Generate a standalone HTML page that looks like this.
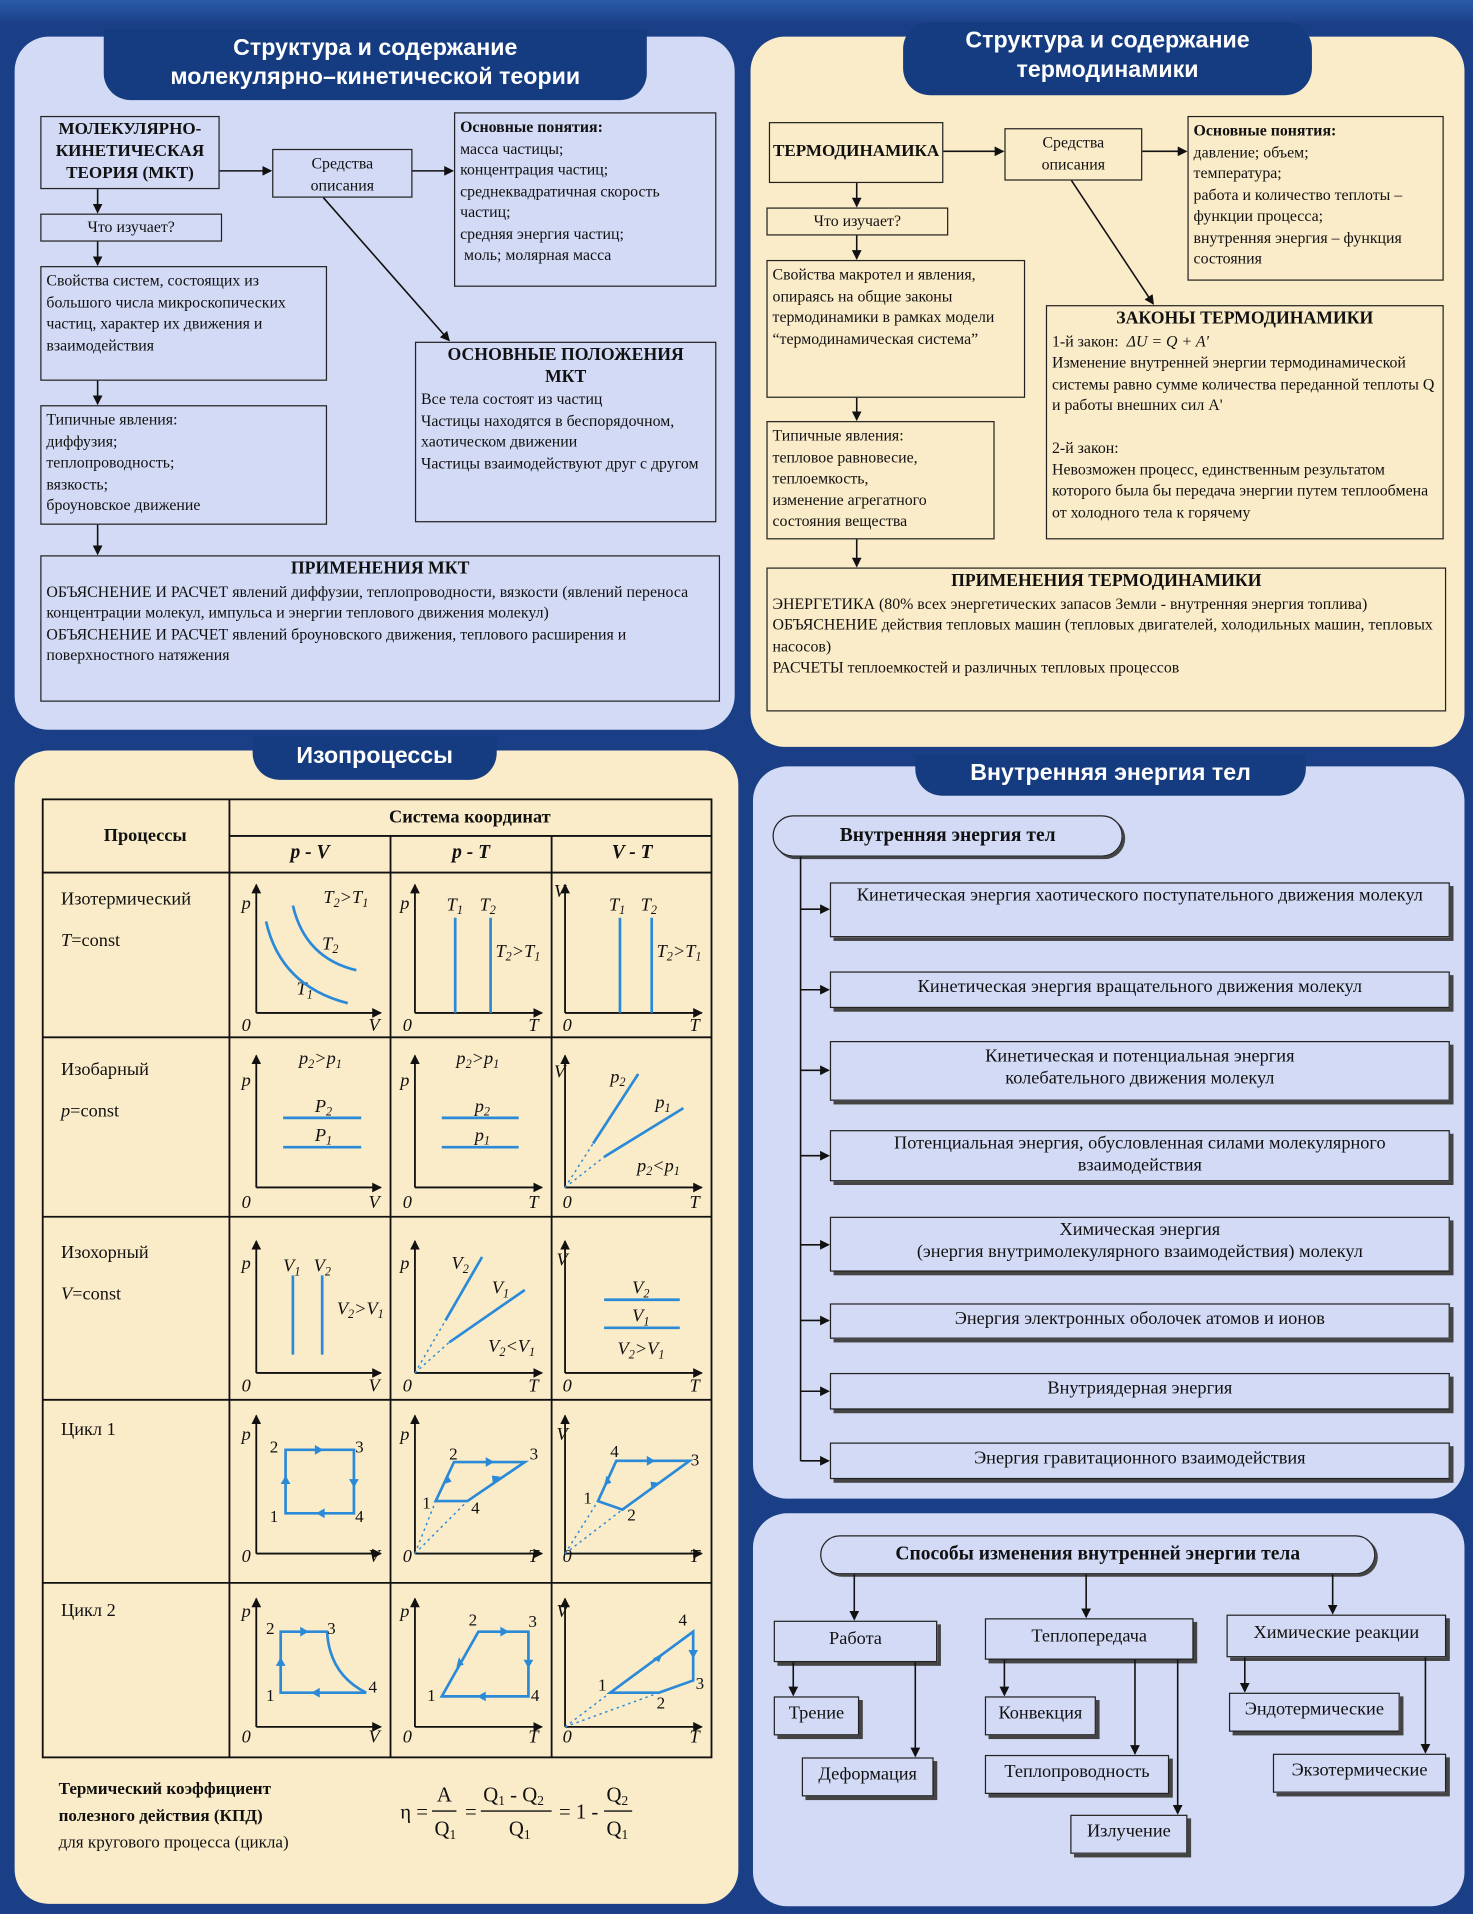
<!DOCTYPE html>
<html><head><meta charset="utf-8">
<style>
html,body{margin:0;padding:0;background:#1b3f86;}
#wrap{width:1207px;height:1568px;position:relative;transform:scale(1.2204);transform-origin:0 0;background:linear-gradient(#2a5aa8 0,#1b3f86 20px,#1b3f86 100%);overflow:hidden;font-family:"Liberation Serif","Noto Serif CJK SC",serif;color:#111;}
.p{position:absolute;border-radius:28px;}
.tab{position:absolute;background:#153c80;color:#fff;font-family:"Liberation Sans",sans-serif;font-weight:bold;text-align:center;border-radius:0 0 22px 22px;font-size:19px;line-height:24px;}
.b{position:absolute;border:1.3px solid #222;box-sizing:border-box;font-size:13px;line-height:17.5px;padding:2px 4px;}
.c{text-align:center}
.bold{font-weight:bold}
.sh{box-shadow:3px 3px 0 #444;padding:2px 10px;}
.pill{position:absolute;border:1.5px solid #222;border-radius:18px;box-sizing:border-box;font-weight:bold;font-size:16px;text-align:center;box-shadow:2px 2px 0 #444;}
svg{position:absolute;left:0;top:0}
</style></head><body><div id="wrap">
<div class="p" style="left:12px;top:30px;width:590px;height:568px;background:#d3daf5"></div>
<div class="p" style="left:615px;top:30px;width:585px;height:582px;background:#fbecc9"></div>
<div class="p" style="left:12px;top:615px;width:593px;height:945px;background:#fbecc9"></div>
<div class="p" style="left:617px;top:628px;width:583px;height:600px;background:#d3daf5"></div>
<div class="p" style="left:617px;top:1240px;width:583px;height:322px;background:#d3daf5"></div>

<div class="tab" style="left:85px;top:24px;width:445px;height:58px;padding-top:4px;box-sizing:border-box">Структура и содержание<br>молекулярно–кинетической теории</div>
<div class="tab" style="left:740px;top:18px;width:335px;height:60px;padding-top:4px;box-sizing:border-box;border-radius:22px">Структура и содержание<br>термодинамики</div>
<div class="tab" style="left:207px;top:603px;width:200px;height:36px;padding-top:5px;box-sizing:border-box">Изопроцессы</div>
<div class="tab" style="left:750px;top:618px;width:320px;height:34px;padding-top:4px;box-sizing:border-box">Внутренняя энергия тел</div>

<!-- TL -->
<div class="b c bold" style="left:33px;top:95px;width:147px;height:60px;font-size:14px;line-height:18px">МОЛЕКУЛЯРНО-<br>КИНЕТИЧЕСКАЯ<br>ТЕОРИЯ (МКТ)</div>
<div class="b c" style="left:223px;top:122px;width:115px;height:40px">Средства<br>описания</div>
<div class="b" style="left:372px;top:92px;width:215px;height:143px"><b>Основные понятия:</b><br>масса частицы;<br>концентрация частиц;<br>среднеквадратичная скорость частиц;<br>средняя энергия частиц;<br>&nbsp;моль; молярная масса</div>
<div class="b c" style="left:33px;top:175px;width:149px;height:23px;line-height:16px">Что изучает?</div>
<div class="b" style="left:33px;top:218px;width:235px;height:94px">Свойства систем, состоящих из большого числа микроскопических частиц, характер их движения и взаимодействия</div>
<div class="b" style="left:340px;top:280px;width:247px;height:148px"><div class="c bold" style="font-size:14.5px">ОСНОВНЫЕ ПОЛОЖЕНИЯ<br>МКТ</div>Все тела состоят из частиц<br>Частицы находятся в беспорядочном, хаотическом движении<br>Частицы взаимодействуют друг с другом</div>
<div class="b" style="left:33px;top:332px;width:235px;height:98px">Типичные явления:<br>диффузия;<br>теплопроводность;<br>вязкость;<br>броуновское движение</div>
<div class="b" style="left:33px;top:455px;width:557px;height:120px"><div class="c bold" style="font-size:14.5px">ПРИМЕНЕНИЯ МКТ</div>ОБЪЯСНЕНИЕ И РАСЧЕТ явлений диффузии, теплопроводности, вязкости (явлений переноса концентрации молекул, импульса и энергии теплового движения молекул)<br>ОБЪЯСНЕНИЕ И РАСЧЕТ явлений броуновского движения, теплового расширения и поверхностного натяжения</div>

<!-- TR -->
<div class="b c bold" style="left:630px;top:100px;width:143px;height:50px;padding:15px 1px 0;font-size:14px">ТЕРМОДИНАМИКА</div>
<div class="b c" style="left:823px;top:105px;width:113px;height:43px">Средства<br>описания</div>
<div class="b" style="left:973px;top:95px;width:210px;height:135px"><b>Основные понятия:</b><br>давление; объем;<br>температура;<br>работа и количество теплоты – функции процесса;<br>внутренняя энергия – функция состояния</div>
<div class="b c" style="left:628px;top:170px;width:149px;height:23px;line-height:16px">Что изучает?</div>
<div class="b" style="left:628px;top:213px;width:212px;height:113px">Свойства макротел и явления, опираясь на общие законы термодинамики в рамках модели “термодинамическая система”</div>
<div class="b" style="left:857px;top:250px;width:326px;height:192px"><div class="c bold" style="font-size:14.5px">ЗАКОНЫ ТЕРМОДИНАМИКИ</div>1-й закон: &nbsp;<i>ΔU = Q + A'</i><br>Изменение внутренней энергии термодинамической системы равно сумме количества переданной теплоты Q и работы внешних сил A'<br><br>2-й закон:<br>Невозможен процесс, единственным результатом которого была бы передача энергии путем теплообмена от холодного тела к горячему</div>
<div class="b" style="left:628px;top:345px;width:187px;height:97px">Типичные явления:<br>тепловое равновесие,<br>теплоемкость,<br>изменение агрегатного состояния вещества</div>
<div class="b" style="left:628px;top:465px;width:557px;height:118px"><div class="c bold" style="font-size:14.5px">ПРИМЕНЕНИЯ ТЕРМОДИНАМИКИ</div>ЭНЕРГЕТИКА (80% всех энергетических запасов Земли - внутренняя энергия топлива)<br>ОБЪЯСНЕНИЕ действия тепловых машин (тепловых двигателей, холодильных машин, тепловых насосов)<br>РАСЧЕТЫ теплоемкостей и различных тепловых процессов</div>

<!-- BR top -->
<div class="pill" style="left:633px;top:668px;width:287px;height:34px;line-height:31px;border-radius:17px">Внутренняя энергия тел</div>
<div class="b c sh" style="left:680px;top:723px;width:508px;height:45px;font-size:15px">Кинетическая энергия хаотического поступательного движения молекул</div>
<div class="b c sh" style="left:680px;top:796px;width:508px;height:30px;font-size:15px;padding-top:4px">Кинетическая энергия вращательного движения молекул</div>
<div class="b c sh" style="left:680px;top:853px;width:508px;height:49px;font-size:15px;padding-top:4px">Кинетическая и потенциальная энергия<br>колебательного движения молекул</div>
<div class="b c sh" style="left:680px;top:926px;width:508px;height:42px;font-size:15px">Потенциальная энергия, обусловленная силами молекулярного взаимодействия</div>
<div class="b c sh" style="left:680px;top:997px;width:508px;height:45px;font-size:15px">Химическая энергия<br>(энергия внутримолекулярного взаимодействия) молекул</div>
<div class="b c sh" style="left:680px;top:1068px;width:508px;height:29px;font-size:15px;padding-top:4px">Энергия электронных оболочек атомов и ионов</div>
<div class="b c sh" style="left:680px;top:1125px;width:508px;height:30px;font-size:15px;padding-top:4px">Внутриядерная энергия</div>
<div class="b c sh" style="left:680px;top:1182px;width:508px;height:30px;font-size:15px;padding-top:4px">Энергия гравитационного взаимодействия</div>

<!-- BR bottom -->
<div class="pill" style="left:672px;top:1258px;width:455px;height:32px;line-height:29px">Способы изменения внутренней энергии тела</div>
<div class="b c sh" style="left:634px;top:1328px;width:134px;height:34px;font-size:15px;padding-top:6px">Работа</div>
<div class="b c sh" style="left:807px;top:1326px;width:171px;height:34px;font-size:15px;padding-top:6px">Теплопередача</div>
<div class="b c sh" style="left:1005px;top:1323px;width:180px;height:35px;font-size:15px;padding-top:6px">Химические реакции</div>
<div class="b c sh" style="left:634px;top:1390px;width:70px;height:32px;font-size:15px;padding:5px 2px 0">Трение</div>
<div class="b c sh" style="left:657px;top:1440px;width:108px;height:32px;font-size:15px;padding:5px 2px 0">Деформация</div>
<div class="b c sh" style="left:807px;top:1390px;width:91px;height:32px;font-size:15px;padding:5px 2px 0">Конвекция</div>
<div class="b c sh" style="left:807px;top:1438px;width:151px;height:32px;font-size:15px;padding:5px 2px 0">Теплопроводность</div>
<div class="b c sh" style="left:877px;top:1487px;width:96px;height:32px;font-size:15px;padding:5px 2px 0">Излучение</div>
<div class="b c sh" style="left:1007px;top:1387px;width:140px;height:32px;font-size:15px;padding:5px 2px 0">Эндотермические</div>
<div class="b c sh" style="left:1043px;top:1437px;width:142px;height:32px;font-size:15px;padding:5px 2px 0">Экзотермические</div>

<svg width="1207" height="1568" viewBox="0 0 1207 1568">
<defs>
<marker id="a" markerWidth="8" markerHeight="8" refX="7" refY="4" orient="auto" markerUnits="userSpaceOnUse"><path d="M0,0 L8,4 L0,8z" fill="#111"/></marker>
</defs>
<g stroke="#111" stroke-width="1.3" fill="none" marker-end="url(#a)">
<path d="M180,140 H222"/><path d="M338,140 H371"/><path d="M80,155 V174"/><path d="M80,198 V217"/><path d="M80,312 V331"/><path d="M80,430 V454"/><path d="M265,162 L368,279"/>
<path d="M773,124 H822"/><path d="M936,124 H972"/><path d="M702,150 V169"/><path d="M702,193 V212"/><path d="M702,326 V344"/><path d="M702,442 V464"/><path d="M878,148 L945,249"/>
<path d="M656,745 H679"/><path d="M656,811 H679"/><path d="M656,877 H679"/><path d="M656,947 H679"/><path d="M656,1020 H679"/><path d="M656,1082 H679"/><path d="M656,1140 H679"/><path d="M656,1197 H679"/>
<path d="M700,1290 V1327"/><path d="M890,1290 V1325"/><path d="M1092,1290 V1322"/>
<path d="M650,1362 V1389"/><path d="M750,1362 V1439"/><path d="M823,1360 V1389"/><path d="M930,1360 V1437"/><path d="M965,1360 V1486"/><path d="M1020,1358 V1386"/><path d="M1168,1358 V1436"/>
</g>
<path d="M656,702 V1197" stroke="#111" stroke-width="1.3"/>

<g stroke="#111" stroke-width="1.5" fill="none">
<rect x="35" y="655" width="548" height="785"/>
<path d="M188,655 V1440 M320,685 V1440 M452,685 V1440 M188,685 H583 M35,715 H583 M35,850 H583 M35,997 H583 M35,1147 H583 M35,1297 H583"/>
</g>
<g font-size="15" fill="#111">
<text x="85" y="689" font-weight="bold">Процессы</text>
<text x="385" y="674" text-anchor="middle" font-weight="bold">Система координат</text>
<g font-weight="bold" font-style="italic" text-anchor="middle" font-size="16"><text x="254" y="703">p - V</text><text x="386" y="703">p - T</text><text x="518" y="703">V - T</text></g>
<text x="50" y="741">Изотермический</text><text x="50" y="775"><tspan font-style="italic">T</tspan>=const</text>
<text x="50" y="881">Изобарный</text><text x="50" y="915"><tspan font-style="italic">p</tspan>=const</text>
<text x="50" y="1031">Изохорный</text><text x="50" y="1065"><tspan font-style="italic">V</tspan>=const</text>
<text x="50" y="1176">Цикл 1</text><text x="50" y="1324">Цикл 2</text>
</g>
<g stroke="#111" stroke-width="1.5" fill="none" marker-end="url(#a)">
<path d="M210,830 V725"/><path d="M210,830 H312"/><path d="M340,830 V725"/><path d="M340,830 H444"/><path d="M463,830 V725"/><path d="M463,830 H575"/>
<path d="M210,973 V865"/><path d="M210,973 H312"/><path d="M340,973 V865"/><path d="M340,973 H444"/><path d="M463,973 V865"/><path d="M463,973 H575"/>
<path d="M210,1125 V1017"/><path d="M210,1125 H312"/><path d="M340,1125 V1017"/><path d="M340,1125 H444"/><path d="M463,1125 V1017"/><path d="M463,1125 H575"/>
<path d="M210,1273 V1160"/><path d="M210,1273 H312"/><path d="M340,1273 V1160"/><path d="M340,1273 H444"/><path d="M463,1273 V1160"/><path d="M463,1273 H575"/>
<path d="M210,1415 V1310"/><path d="M210,1415 H312"/><path d="M340,1415 V1310"/><path d="M340,1415 H444"/><path d="M463,1415 V1310"/><path d="M463,1415 H575"/>
</g>
<g font-size="15" font-style="italic" fill="#111">
<text x="198" y="745">p</text><text x="328" y="745">p</text><text x="454" y="735">V</text>
<text x="198" y="890">p</text><text x="328" y="890">p</text><text x="454" y="883">V</text>
<text x="198" y="1040">p</text><text x="328" y="1040">p</text><text x="456" y="1037">V</text>
<text x="198" y="1180">p</text><text x="328" y="1180">p</text><text x="456" y="1180">V</text>
<text x="198" y="1325">p</text><text x="328" y="1325">p</text><text x="456" y="1325">V</text>
<g><text x="198" y="845">0</text><text x="302" y="845">V</text><text x="330" y="845">0</text><text x="433" y="845">T</text><text x="461" y="845">0</text><text x="565" y="845">T</text></g>
<g><text x="198" y="990">0</text><text x="302" y="990">V</text><text x="330" y="990">0</text><text x="433" y="990">T</text><text x="461" y="990">0</text><text x="565" y="990">T</text></g>
<g><text x="198" y="1140">0</text><text x="302" y="1140">V</text><text x="330" y="1140">0</text><text x="433" y="1140">T</text><text x="461" y="1140">0</text><text x="565" y="1140">T</text></g>
<g><text x="198" y="1280">0</text><text x="302" y="1280">V</text><text x="330" y="1280">0</text><text x="433" y="1280">T</text><text x="461" y="1280">0</text><text x="565" y="1280">T</text></g>
<g><text x="198" y="1428">0</text><text x="302" y="1428">V</text><text x="330" y="1428">0</text><text x="433" y="1428">T</text><text x="461" y="1428">0</text><text x="565" y="1428">T</text></g>
<text x="265" y="740">T<tspan font-size="10" dy="3">2</tspan><tspan dy="-3">&gt;T</tspan><tspan font-size="10" dy="3">1</tspan></text>
<text x="264" y="778">T<tspan font-size="10" dy="3">2</tspan></text><text x="243" y="815">T<tspan font-size="10" dy="3">1</tspan></text>
<text x="366" y="746">T<tspan font-size="10" dy="3">1</tspan></text><text x="393" y="746">T<tspan font-size="10" dy="3">2</tspan></text>
<text x="406" y="784">T<tspan font-size="10" dy="3">2</tspan><tspan dy="-3">&gt;T</tspan><tspan font-size="10" dy="3">1</tspan></text>
<text x="499" y="746">T<tspan font-size="10" dy="3">1</tspan></text><text x="525" y="746">T<tspan font-size="10" dy="3">2</tspan></text>
<text x="538" y="784">T<tspan font-size="10" dy="3">2</tspan><tspan dy="-3">&gt;T</tspan><tspan font-size="10" dy="3">1</tspan></text>
<text x="245" y="872">p<tspan font-size="10" dy="3">2</tspan><tspan dy="-3">&gt;p</tspan><tspan font-size="10" dy="3">1</tspan></text>
<text x="258" y="911">P<tspan font-size="10" dy="3">2</tspan></text><text x="258" y="935">P<tspan font-size="10" dy="3">1</tspan></text>
<text x="374" y="872">p<tspan font-size="10" dy="3">2</tspan><tspan dy="-3">&gt;p</tspan><tspan font-size="10" dy="3">1</tspan></text>
<text x="389" y="911">p<tspan font-size="10" dy="3">2</tspan></text><text x="389" y="935">p<tspan font-size="10" dy="3">1</tspan></text>
<text x="500" y="887">p<tspan font-size="10" dy="3">2</tspan></text><text x="537" y="908">p<tspan font-size="10" dy="3">1</tspan></text>
<text x="522" y="960">p<tspan font-size="10" dy="3">2</tspan><tspan dy="-3">&lt;p</tspan><tspan font-size="10" dy="3">1</tspan></text>
<text x="232" y="1042">V<tspan font-size="10" dy="3">1</tspan></text><text x="257" y="1042">V<tspan font-size="10" dy="3">2</tspan></text>
<text x="276" y="1077">V<tspan font-size="10" dy="3">2</tspan><tspan dy="-3">&gt;V</tspan><tspan font-size="10" dy="3">1</tspan></text>
<text x="370" y="1040">V<tspan font-size="10" dy="3">2</tspan></text><text x="403" y="1060">V<tspan font-size="10" dy="3">1</tspan></text>
<text x="400" y="1108">V<tspan font-size="10" dy="3">2</tspan><tspan dy="-3">&lt;V</tspan><tspan font-size="10" dy="3">1</tspan></text>
<text x="518" y="1060">V<tspan font-size="10" dy="3">2</tspan></text><text x="518" y="1083">V<tspan font-size="10" dy="3">1</tspan></text>
<text x="506" y="1110">V<tspan font-size="10" dy="3">2</tspan><tspan dy="-3">&gt;V</tspan><tspan font-size="10" dy="3">1</tspan></text>
</g>
<g stroke="#2a8ad8" stroke-width="2.2" fill="none">
<path d="M218,755 Q230,808 285,822"/><path d="M240,742 Q250,785 292,795"/>
<path d="M373,752 V830"/><path d="M402,752 V830"/><path d="M508,752 V830"/><path d="M534,752 V830"/>
<path d="M232,916 H296 M232,940 H296 M362,916 H425 M362,940 H425"/>
<path d="M486,937 L523,880 M495,948 L560,908"/>
<path d="M240,1045 V1110 M264,1045 V1110"/>
<path d="M365,1082 L395,1030 M368,1100 L430,1057"/>
<path d="M495,1065 H557 M495,1088 H557"/>
<path d="M234,1188 H290 V1240 H234Z"/>
<path d="M357,1230 L372,1198 H430 L383,1230Z"/>
<path d="M490,1230 L505,1197 H565 L510,1237Z"/>
<path d="M230,1337 H268 Q270,1372 300,1387 H230Z"/>
<path d="M362,1390 L392,1337 H433 V1390Z"/>
<path d="M500,1387 L568,1337 V1377 L540,1387Z"/>
</g>
<g stroke="#2a8ad8" stroke-width="1.2" stroke-dasharray="2,3" fill="none">
<path d="M463,973 L486,937 M463,973 L495,948 M340,1125 L365,1082 M340,1125 L368,1100 M340,1273 L357,1230 M340,1273 L383,1230 M463,1273 L490,1230 M463,1273 L510,1237 M463,1415 L500,1387 M463,1415 L540,1387"/>
</g>
<g fill="#2a8ad8">
<path d="M258,1184 l7,4 -7,4z"/><path d="M286,1212 l4,7 4,-7z"/><path d="M266,1236 l-7,4 7,4z"/><path d="M230,1216 l4,-7 4,7z"/>
<path d="M398,1194 l7,4 -7,4z"/><path d="M410,1210 l-6,6 -1,-7z"/><path d="M364,1216 l2,-8 4,6z"/>
<path d="M530,1193 l7,4 -7,4z"/><path d="M540,1215 l-6,6 -1,-7z"/><path d="M495,1217 l2,-8 4,6z"/>
<path d="M246,1333 l7,4 -7,4z"/><path d="M226,1365 l4,-7 4,7z"/><path d="M262,1383 l-7,4 7,4z"/>
<path d="M410,1333 l7,4 -7,4z"/><path d="M429,1360 l4,7 4,-7z"/><path d="M398,1386 l-7,4 7,4z"/><path d="M374,1366 l2,-8 4,6z"/>
<path d="M535,1359 l8,-4 -3,7z"/><path d="M564,1352 l4,7 4,-7z"/>
</g>
<g font-size="14" fill="#111">
<text x="221" y="1190">2</text><text x="291" y="1190">3</text><text x="221" y="1247">1</text><text x="291" y="1247">4</text>
<text x="368" y="1196">2</text><text x="434" y="1196">3</text><text x="346" y="1236">1</text><text x="386" y="1240">4</text>
<text x="500" y="1194">4</text><text x="566" y="1201">3</text><text x="478" y="1232">1</text><text x="514" y="1246">2</text>
<text x="218" y="1339">2</text><text x="268" y="1339">3</text><text x="218" y="1394">1</text><text x="302" y="1387">4</text>
<text x="384" y="1332">2</text><text x="433" y="1333">3</text><text x="350" y="1394">1</text><text x="435" y="1394">4</text>
<text x="556" y="1332">4</text><text x="570" y="1384">3</text><text x="490" y="1385">1</text><text x="538" y="1400">2</text>
</g>
<g font-size="14" fill="#111">
<text x="48" y="1470" font-weight="bold">Термический коэффициент</text>
<text x="48" y="1492" font-weight="bold">полезного действия (КПД)</text>
<text x="48" y="1514">для кругового процесса (цикла)</text>
<g font-size="17"><text x="328" y="1490">η =</text>
<text x="358" y="1476">A</text><text x="356" y="1504">Q<tspan font-size="11" dy="3">1</tspan></text>
<text x="381" y="1490">=</text>
<text x="396" y="1476">Q<tspan font-size="11" dy="3">1</tspan><tspan dy="-3"> - Q</tspan><tspan font-size="11" dy="3">2</tspan></text>
<text x="417" y="1504">Q<tspan font-size="11" dy="3">1</tspan></text>
<text x="458" y="1490">= 1 -</text>
<text x="497" y="1476">Q<tspan font-size="11" dy="3">2</tspan></text><text x="497" y="1504">Q<tspan font-size="11" dy="3">1</tspan></text></g>
<path d="M354,1484 H374 M394,1484 H452 M495,1484 H518" stroke="#111" stroke-width="1.2"/>
</g>
</svg>
</div></body></html>
